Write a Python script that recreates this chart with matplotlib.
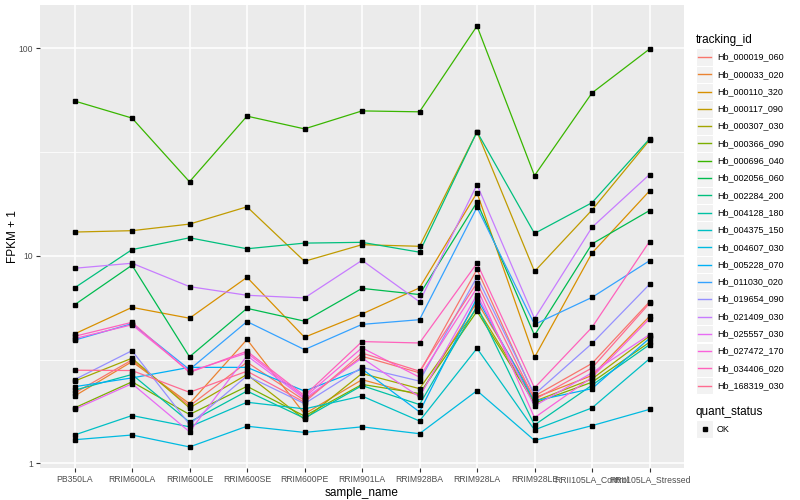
import matplotlib
matplotlib.use("Agg")
import matplotlib.pyplot as plt
import numpy as np
from matplotlib.lines import Line2D
from matplotlib.patches import Rectangle

plt.rcParams["font.family"] = ["Liberation Sans", "DejaVu Sans"]

samples = ["PB350LA", "RRIM600LA", "RRIM600LE", "RRIM600SE", "RRIM600PE",
           "RRIM901LA", "RRIM928BA", "RRIM928LA", "RRIM928LE",
           "RRII105LA_Control", "RRII105LA_Stressed"]

tracking_ids = ["Hb_000019_060", "Hb_000033_020", "Hb_000110_320", "Hb_000117_090",
                "Hb_000307_030", "Hb_000366_090", "Hb_000696_040", "Hb_002056_060",
                "Hb_002284_200", "Hb_004128_180", "Hb_004375_150", "Hb_004607_030",
                "Hb_005228_070", "Hb_011030_020", "Hb_019654_090", "Hb_021409_030",
                "Hb_025557_030", "Hb_027472_170", "Hb_034406_020", "Hb_168319_030"]

# ggplot hue palette, 20 levels
colors = ["#F8766D", "#EA8331", "#D89000", "#C09B00", "#A3A500", "#7CAE00",
          "#39B600", "#00BB4E", "#00BF7D", "#00C1A3", "#00BFC4", "#00BAE0",
          "#00B0F6", "#35A2FF", "#9590FF", "#C77CFF", "#E76BF3", "#FA62DB",
          "#FF62BC", "#FF6C91"]

# FPKM + 1, one list per tracking_id, in sample order
hb_000019_060 = [2.18, 3.15, 1.89, 3.07, 2.01, 3.28, 2.73, 8.6, 2.11, 3.03, 6.0]
hb_000033_020 = [2.11, 3.09, 1.94, 3.95, 1.73, 2.53, 2.13, 6.0, 2.07, 2.65, 5.1]
hb_000110_320 = [4.2, 5.64, 5.0, 7.87, 4.05, 5.24, 7.0, 20.1, 3.24, 10.3, 20.5]
hb_000117_090 = [13.0, 13.2, 14.2, 17.2, 9.4, 11.3, 11.1, 39.5, 8.4, 16.6, 36.0]
hb_000307_030 = [2.49, 3.21, 1.85, 2.68, 1.63, 2.71, 2.29, 5.6, 1.99, 2.55, 4.1]
hb_000366_090 = [1.85, 2.47, 1.72, 2.35, 1.69, 2.4, 2.17, 5.4, 1.95, 2.46, 3.83]
hb_000696_040 = [55.6, 46.0, 22.7, 47.0, 40.8, 49.8, 49.3, 127.6, 24.3, 60.8, 98.9]
hb_002056_060 = [5.8, 9.0, 3.26, 5.58, 4.84, 6.96, 6.5, 18.1, 4.14, 11.4, 16.5]
hb_002284_200 = [7.0, 10.7, 12.2, 10.8, 11.5, 11.6, 10.4, 39.5, 12.8, 18.0, 36.5]
hb_004128_180 = [2.25, 2.68, 1.58, 2.23, 1.65, 2.37, 1.92, 5.7, 1.53, 2.38, 3.73]
hb_004375_150 = [1.37, 1.70, 1.50, 1.97, 1.83, 2.11, 1.6, 3.58, 1.45, 1.85, 3.19]
hb_004607_030 = [1.30, 1.37, 1.20, 1.51, 1.41, 1.5, 1.39, 2.24, 1.29, 1.52, 1.82]
hb_005228_070 = [2.34, 2.58, 2.9, 2.9, 2.23, 2.85, 1.77, 6.26, 2.0, 2.29, 4.0]
hb_011030_020 = [3.92, 4.71, 2.83, 4.82, 3.53, 4.67, 4.92, 17.1, 4.67, 6.3, 9.46]
hb_019654_090 = [2.53, 3.49, 1.54, 2.64, 1.94, 2.9, 2.49, 7.9, 2.15, 3.78, 7.28]
hb_021409_030 = [8.7, 9.2, 7.1, 6.45, 6.26, 9.5, 6.0, 22.0, 4.98, 13.7, 24.6]
hb_025557_030 = [1.82, 2.42, 1.42, 3.3, 2.05, 3.22, 2.09, 6.5, 1.89, 2.73, 4.17]
hb_027472_170 = [3.99, 4.65, 2.77, 3.4, 2.08, 3.6, 2.6, 7.0, 1.66, 2.6, 4.97]
hb_034406_020 = [4.09, 4.78, 2.74, 3.47, 2.12, 3.86, 3.8, 9.2, 2.31, 4.52, 11.7]
hb_168319_030 = [2.81, 2.80, 2.2, 2.78, 1.97, 3.4, 2.78, 7.4, 2.03, 2.88, 5.9]

series = [hb_000019_060, hb_000033_020, hb_000110_320, hb_000117_090,
          hb_000307_030, hb_000366_090, hb_000696_040, hb_002056_060,
          hb_002284_200, hb_004128_180, hb_004375_150, hb_004607_030,
          hb_005228_070, hb_011030_020, hb_019654_090, hb_021409_030,
          hb_025557_030, hb_027472_170, hb_034406_020, hb_168319_030]

W, H = 800, 500


def fx(x):
    return x / W


def fy(y):
    return 1 - y / H


fig = plt.figure(figsize=(8, 5), dpi=100)
fig.patch.set_facecolor("white")
ax = fig.add_axes([fx(40), fy(468), (684 - 40) / W, (468 - 5) / H])
ax.set_facecolor("#EBEBEB")

x = np.arange(1, len(samples) + 1)
for vals, col in zip(series, colors):
    ax.plot(x, vals, color=col, lw=0.9, zorder=3)
for vals in series:
    ax.plot(x, vals, ls="none", marker="s", ms=2.6, color="black", zorder=4)

ax.set_yscale("log")
allv = np.log10(np.concatenate([np.array(s) for s in series]))
lo, hi = allv.min(), allv.max()
pad = 0.05 * (hi - lo)
ax.set_ylim(10 ** (lo - pad), 10 ** (hi + pad))
ax.set_xlim(0.4, len(samples) + 0.6)

ax.set_yticks([1, 10, 100])
ax.set_yticklabels(["1", "10", "100"])
ax.yaxis.set_minor_locator(matplotlib.ticker.FixedLocator([10 ** 0.5, 10 ** 1.5]))
ax.yaxis.set_minor_formatter(matplotlib.ticker.NullFormatter())
ax.set_xticks(x)
ax.set_xticklabels(samples)

ax.grid(which="major", color="white", lw=1.1, zorder=1)
ax.grid(which="minor", axis="y", color="white", lw=0.55, zorder=1)
ax.set_axisbelow(True)
for sp in ax.spines.values():
    sp.set_visible(False)
ax.tick_params(which="major", length=3, width=0.8, color="#333333",
               labelcolor="#4D4D4D", labelsize=6.2, pad=2)
ax.tick_params(which="minor", length=0)
ax.set_xlabel("sample_name", fontsize=8.5, labelpad=2)
ax.set_ylabel("FPKM + 1", fontsize=8.5, labelpad=0)

# legend: tracking_id
fig.text(fx(696), fy(40), "tracking_id", fontsize=8.5, va="center", ha="left")
y0, step = 57, 17.3
for i, (tid, col) in enumerate(zip(tracking_ids, colors)):
    yc = y0 + i * step
    fig.add_artist(Rectangle((fx(696), fy(yc + 8.6)), 17 / W, 17.2 / H,
                             transform=fig.transFigure, facecolor="#F2F2F2",
                             edgecolor="white", lw=0.8))
    fig.add_artist(Line2D([fx(698), fx(711)], [fy(yc), fy(yc)],
                          transform=fig.transFigure, color=col, lw=1.0))
    fig.text(fx(717), fy(yc), tid, fontsize=6.5, va="center", ha="left")

# legend: quant_status
fig.text(fx(696), fy(412), "quant_status", fontsize=8.5, va="center", ha="left")
fig.add_artist(Rectangle((fx(696), fy(429 + 8.6)), 17 / W, 17.2 / H,
                         transform=fig.transFigure, facecolor="#F2F2F2",
                         edgecolor="white", lw=0.8))
fig.add_artist(Line2D([fx(704.5)], [fy(429)], transform=fig.transFigure,
                      ls="none", marker="s", ms=2.6, color="black"))
fig.text(fx(717), fy(429), "OK", fontsize=6.5, va="center", ha="left")

fig.savefig("out.png", dpi=100)
